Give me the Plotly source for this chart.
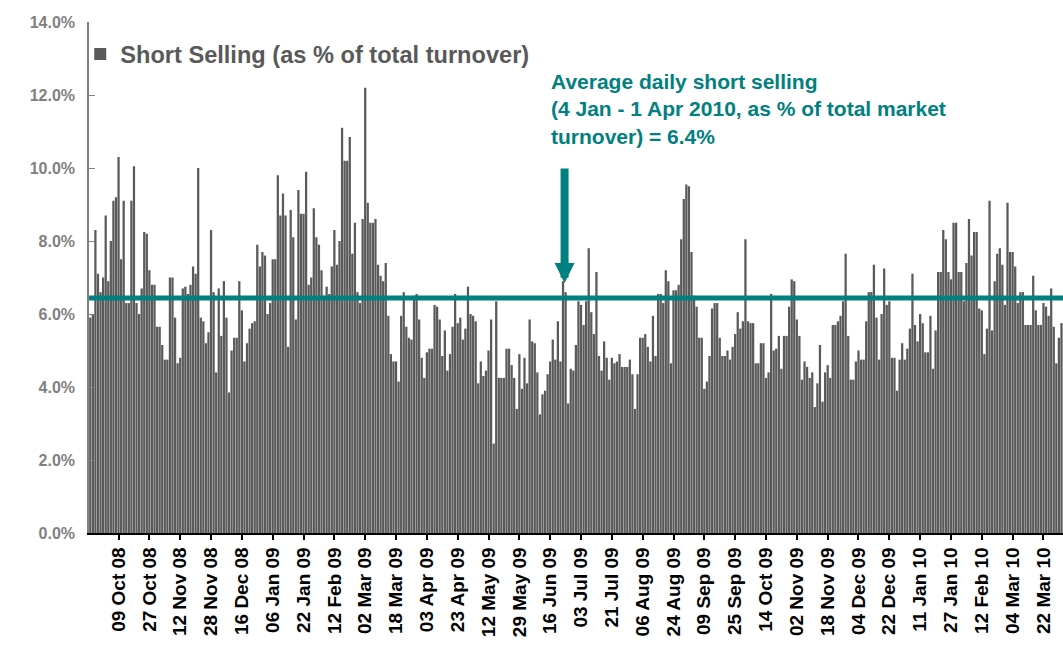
import pandas as pd
import plotly.graph_objects as go

# ---- data: daily short selling as % of total turnover ----
short_sep_nov08 = [5.9, 6.0, 8.3, 7.1, 6.6, 7.0, 8.7, 6.9, 8.0, 9.1, 9.2, 10.3, 7.5, 9.1, 6.3, 6.3,
                   9.1, 10.05, 6.3, 6.0, 6.7, 8.25, 8.2, 7.2, 6.8, 6.8, 5.65, 5.65, 5.15, 4.75, 4.75,
                   7.0, 7.0, 5.9, 4.65]
short_nov_dec08 = [4.8, 6.7, 6.75, 6.55, 6.8, 7.3, 7.1, 10.0, 5.9, 5.8, 5.2, 5.5, 8.3, 6.6, 4.4, 6.7,
                   5.4, 6.9, 5.9, 3.85, 5.0, 5.35, 5.35, 6.9, 6.1, 4.7, 5.2, 5.6, 5.75, 5.8, 7.9, 7.3,
                   7.7, 7.6]
short_jan_feb09 = [6.0, 6.3, 7.5, 7.5, 9.8, 8.7, 9.3, 8.7, 5.1, 8.85, 8.1, 5.85, 9.4, 8.75, 8.75, 9.9,
                   6.8, 7.0, 8.9, 8.1, 7.9, 7.2, 6.5, 6.75, 6.55, 7.3, 8.3, 7.35, 8.0, 11.1, 10.2, 10.2,
                   10.85]
short_feb_apr09 = [7.65, 8.5, 6.6, 6.3, 8.6, 12.2, 9.05, 8.5, 8.5, 8.6, 7.35, 7.05, 6.9, 7.4, 5.95, 4.9,
                   4.7, 4.7, 4.15, 5.95, 6.6, 5.65, 5.35, 5.3, 6.5, 6.55, 5.85, 4.8, 4.25, 4.95, 5.05,
                   5.05, 6.25, 6.2, 5.85]
short_apr_jun09 = [4.85, 5.55, 4.45, 4.9, 5.65, 6.55, 5.75, 5.9, 5.3, 5.6, 6.75, 6.0, 5.95, 5.8, 4.1, 4.7,
                   4.3, 4.45, 5.0, 5.85, 2.45, 6.35, 4.25, 4.25, 4.25, 5.05, 5.05, 4.6, 4.25, 3.4, 4.9,
                   3.95, 4.8, 4.1, 5.85]
short_jun_jul09 = [5.25, 5.2, 4.4, 3.25, 3.8, 3.9, 4.35, 4.7, 5.3, 4.75, 5.8, 4.7, 6.9, 6.6, 3.55, 4.5,
                   4.45, 5.15, 6.35, 6.25, 5.7, 6.35, 7.8, 6.05, 5.45, 7.15, 4.85, 4.45, 5.25, 4.8, 4.2,
                   4.8, 4.65, 4.7]
short_jul_sep09 = [4.9, 4.55, 4.55, 4.55, 4.75, 4.35, 3.4, 4.35, 5.35, 5.35, 5.45, 5.1, 4.7, 5.95, 4.85,
                   6.55, 6.55, 6.3, 7.2, 6.9, 4.65, 6.65, 6.65, 6.8, 8.05, 9.15, 9.55, 9.5, 7.7, 6.5, 6.2,
                   5.35, 5.35, 3.95, 4.15]
short_sep_oct09 = [4.85, 6.15, 6.3, 6.3, 5.35, 4.85, 4.85, 5.0, 4.75, 5.1, 5.45, 6.05, 5.6, 5.8, 8.05,
                   5.8, 5.75, 5.75, 4.65, 4.65, 5.2, 5.2, 4.25, 4.4, 6.55, 5.0, 5.05, 5.4, 4.5, 5.4, 5.4,
                   6.2, 6.95, 6.9]
short_nov_dec09 = [5.85, 5.4, 4.2, 4.7, 4.55, 4.25, 4.4, 3.45, 4.1, 5.15, 3.6, 4.4, 4.6, 4.25, 5.7, 5.7,
                   5.8, 5.95, 6.35, 7.65, 5.4, 4.2, 4.2, 4.7, 5.0, 4.75, 4.75, 5.8, 6.6, 6.6, 7.35, 5.9,
                   4.75, 6.0]
short_dec09_feb10 = [7.25, 6.25, 6.35, 4.8, 4.8, 3.9, 4.75, 5.2, 4.75, 5.05, 5.6, 7.1, 5.7, 5.25, 6.0,
                     5.75, 4.95, 4.95, 5.95, 4.5, 5.55, 7.15, 7.15, 8.3, 8.05, 7.15, 6.95, 8.5, 8.5, 7.15,
                     7.15, 6.35, 7.4]
short_feb_apr10 = [8.6, 7.6, 8.25, 8.25, 6.15, 6.1, 4.9, 5.6, 9.1, 5.55, 6.9, 7.65, 7.8, 7.35, 6.25, 9.05,
                   7.7, 7.7, 7.3, 6.3, 6.6, 6.6, 5.7, 5.7, 5.7, 7.05, 6.1, 5.7, 5.7, 6.3, 6.2, 5.95, 6.7,
                   5.65, 4.65, 5.35, 5.75, 5.6]

short_pct = (short_sep_nov08 + short_nov_dec08 + short_jan_feb09 + short_feb_apr09 + short_apr_jun09
             + short_jun_jul09 + short_jul_sep09 + short_sep_oct09 + short_nov_dec09
             + short_dec09_feb10 + short_feb_apr10)

avg_2010 = 6.44  # average daily short selling, 4 Jan - 1 Apr 2010

# trading days (Hong Kong market holidays removed)
hk_holidays = ["2008-10-01", "2008-10-07", "2008-12-25", "2008-12-26", "2009-01-01", "2009-01-26",
               "2009-01-27", "2009-01-28", "2009-04-10", "2009-04-13", "2009-05-01", "2009-05-28",
               "2009-07-01", "2009-10-01", "2009-10-26", "2009-12-25", "2010-01-01", "2010-02-15",
               "2010-02-16"]
days = pd.bdate_range("2008-09-22", "2010-04-01")
days = days[~days.isin(pd.to_datetime(hk_holidays))]
days = list(days[:len(short_pct)])
categories = [d.strftime("%Y-%m-%d") for d in days]
tick_every = 12
tick_start = 11
tickvals = categories[tick_start::tick_every]
ticktext = [d.strftime("%d %b %y") for d in days[tick_start::tick_every]]

legend_name = "Short Selling (as % of total turnover)"
note_text = ("Average daily short selling<br>(4 Jan - 1 Apr 2010, as % of total market<br>"
             "turnover) = 6.4%")

FONT = "Liberation Sans, Arial, sans-serif"
TEAL = "#008080"

fig = go.Figure()
fig.add_trace(go.Bar(x=categories, y=short_pct, name=legend_name,
                     marker=dict(color="#5a5a5a", line=dict(width=0))))

fig.add_shape(type="line", xref="paper", x0=0, x1=1, yref="y", y0=avg_2010, y1=avg_2010,
              line=dict(color=TEAL, width=5), layer="above")

# arrow pointing at the average line
fig.add_annotation(x=184.6, y=6.85, xref="x", yref="y", text="", showarrow=True,
                   ax=0, ay=-116, axref="pixel", ayref="pixel",
                   arrowhead=2, arrowwidth=8, arrowsize=0.5, arrowcolor=TEAL, standoff=0)
fig.add_annotation(x=(549 - 89) / 974, y=(533 - 68) / 511, xref="paper", yref="paper",
                   xanchor="left", yanchor="top", align="left", showarrow=False,
                   text=note_text, font=dict(family=FONT, size=21, color=TEAL, weight="bold"))

fig.update_layout(
    width=1063, height=647,
    margin=dict(l=89, r=0, t=22, b=114, autoexpand=False),
    paper_bgcolor="white", plot_bgcolor="white",
    bargap=0.12,
    showlegend=True,
    legend=dict(x=-0.009, y=0.98, xanchor="left", yanchor="top", bgcolor="rgba(0,0,0,0)",
                font=dict(family=FONT, size=23.6, color="#595959", weight="bold"),
                itemwidth=30),
    xaxis=dict(type="category", range=[-0.5, 378.6], tickmode="array", automargin=False,
               tickvals=tickvals, ticktext=ticktext, tickangle=-90,
               tickfont=dict(family=FONT, size=19, color="black", weight="bold"),
               ticks="outside", ticklen=5, tickcolor="black", tickwidth=1.5,
               showline=True, linecolor="black", linewidth=1.5, showgrid=False),
    yaxis=dict(range=[0, 14], dtick=2, tickformat=".1f", ticksuffix="%", automargin=False,
               tickfont=dict(family=FONT, size=16, color="#808080", weight="bold"),
               ticks="inside", ticklen=6, tickcolor="#808080", ticklabelstandoff=9,
               showline=True, linecolor="#808080", linewidth=1.5,
               showgrid=False, zeroline=False),
)

fig.write_html("out.html", config={"displayModeBar": False},
               post_script="document.body.style.margin='0';document.body.style.overflow='hidden';")
